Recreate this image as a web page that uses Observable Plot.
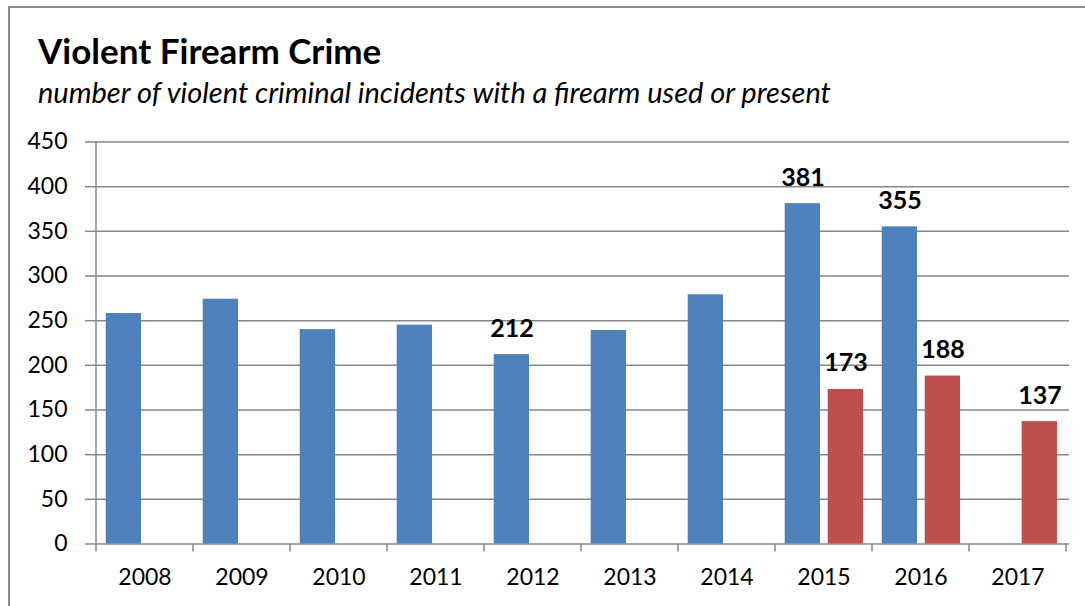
<!DOCTYPE html>
<html><head><meta charset="utf-8">
<script src="https://cdn.jsdelivr.net/npm/d3@7"></script>
<script src="https://cdn.jsdelivr.net/npm/@observablehq/plot@0.6"></script>
<style>
body{margin:0;background:#fff;}
#wrap{position:relative;width:1085px;height:606px;overflow:hidden;font-family:Lato,sans-serif;background:#fff;}
#frame{position:absolute;left:8px;top:6px;width:1200px;height:800px;border-top:2px solid #8c8c8c;border-left:2px solid #8c8c8c;z-index:2;pointer-events:none;}
#title{position:absolute;left:38px;top:33px;font-weight:bold;font-size:35px;line-height:1;color:#000;white-space:nowrap;}
#subtitle{position:absolute;left:38px;top:77px;font-style:italic;font-size:29px;line-height:1;color:#000;white-space:nowrap;}
#chart{position:absolute;left:0;top:120px;}
</style></head>
<body>
<div id="wrap">
  <div id="frame"></div>
  <div id="title">Violent Firearm Crime</div>
  <div id="subtitle">number of violent criminal incidents with a firearm used or present</div>
  <div id="chart"></div>
</div>
<script>
const years = ["2008","2009","2010","2011","2012","2013","2014","2015","2016","2017"];
const seriesBlue = [258, 274, 240, 245, 212, 239, 279, 381, 355, null];
const seriesRed  = [null, null, null, null, null, null, null, 173, 188, 137];
const labeledBlue = ["2012","2015","2016"];
const labeledRed = ["2015","2016","2017"];
const yTicks = [0,50,100,150,200,250,300,350,400,450];

const blueData = years.map((year,i)=>({year, value: seriesBlue[i]})).filter(d=>d.value!=null);
const redData = years.map((year,i)=>({year, value: seriesRed[i]})).filter(d=>d.value!=null);
const blueLabels = blueData.filter(d=>labeledBlue.includes(d.year));
const redLabels = redData.filter(d=>labeledRed.includes(d.year));

const gridColor = "#878787";

function boundaryTicks(index, scales) {
  const x = scales.x, y = scales.y;
  const bw = x(years[1]) - x(years[0]);
  const g = d3.create("svg:g").attr("stroke", gridColor).attr("stroke-width", 1.5);
  const y0 = y(0);
  const xs = years.map(d => x(d)).concat([x(years[years.length-1]) + bw]);
  xs.forEach(px => g.append("line").attr("x1",px).attr("x2",px).attr("y1",y0).attr("y2",y0+8));
  g.append("line").attr("x1",xs[0]).attr("x2",xs[0]).attr("y1",y(450)).attr("y2",y0);
  return g.node();
}

const chart = Plot.plot({
  width: 1085, height: 486,
  marginTop: 21.5, marginBottom: 62.5, marginLeft: 92, marginRight: 16,
  x: {domain: years, padding: 0, label: null},
  y: {domain: [0, 450], label: null},
  style: {fontFamily: "Lato, sans-serif", fontSize: "23px", color: "#000", background: "transparent", overflow: "visible"},
  marks: [
    Plot.ruleY(yTicks, {stroke: gridColor, strokeWidth: 1.5}),
    Plot.axisY({ticks: yTicks, tickSize: 7, tickPadding: 18, stroke: gridColor, strokeWidth: 1.5, strokeOpacity: 1, fontSize: 23, label: null}),
    Plot.barY(blueData, {x: "year", y: "value", fill: "#4F81BD", insetLeft: 9.7, insetRight: 52}),
    Plot.barY(redData, {x: "year", y: "value", fill: "#C0504D", insetLeft: 52.7, insetRight: 9}),
    Plot.axisX({tickSize: 0, tickPadding: 25, fontSize: 23, label: null}),
    boundaryTicks,
    Plot.text(blueLabels, {x: "year", y: "value", text: d => String(d.value), dx: -21, dy: -18, lineAnchor: "bottom", fontWeight: "bold", fontSize: 25, fill: "#000"}),
    Plot.text(redLabels, {x: "year", y: "value", text: d => String(d.value), dx: 22, dy: -18, lineAnchor: "bottom", fontWeight: "bold", fontSize: 25, fill: "#000"})
  ]
});
document.getElementById("chart").appendChild(chart);
</script>
</body></html>
